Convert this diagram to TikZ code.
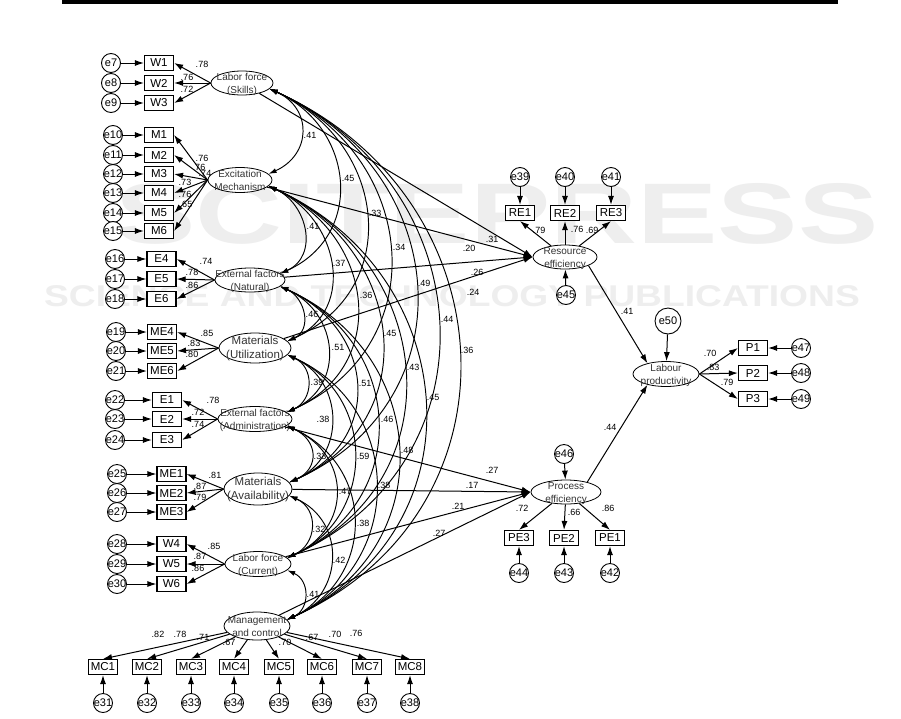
\documentclass[tikz,border=0pt]{standalone}
\usepackage{fontspec}
\setmainfont{Liberation Sans}
\usetikzlibrary{arrows.meta,shapes.geometric}
\newcommand\lattxt[2]{\makebox[0pt]{\raisebox{-3.5pt}[0pt][0pt]{\begin{tabular}{@{}c@{}}#1\\#2\end{tabular}}}}
\newcommand\ctxt[1]{\makebox[0pt]{#1}}
\begin{document}
\begin{tikzpicture}[x=1pt,y=1pt,
 lat/.style={draw, ellipse, inner sep=0pt, line width=0.8pt, fill=white, text=black!80, font=\fontsize{10}{13}\selectfont},
 latbig/.style={lat, font=\fontsize{11.5}{14}\selectfont},
 obs/.style={draw, rectangle, line width=1.2pt, fill=white, minimum width=29pt, minimum height=15pt, inner sep=0pt, font=\fontsize{11.5}{12}\selectfont},
 err/.style={draw, circle, line width=0.9pt, fill=white, minimum size=19pt, inner sep=0pt, font=\fontsize{11}{12}\selectfont},
 arr/.style={-{Latex[length=9pt,width=6pt]}, line width=1pt},
 cov/.style={{Latex[length=8pt,width=5pt]}-{Latex[length=8pt,width=5pt]}, line width=0.95pt},
 lab/.style={font=\fontsize{9}{10}\selectfont, inner sep=0pt},
 wmA/.style={text=gray!13, font=\fontsize{86}{90}\bfseries\selectfont, xscale=1.4, inner sep=0pt},
 wmB/.style={text=gray!13, font=\fontsize{30}{32}\bfseries\selectfont, xscale=1.24, inner sep=0pt},
]
\useasboundingbox (0,0) rectangle (901,-718);
\fill[white] (0,0) rectangle (901,-718);
% watermark
\node[wmA] (wm1) at (497,-214) {SCITEPRESS};
\node[wmB] (wm2) at (452,-296) {SCIENCE AND TECHNOLOGY PUBLICATIONS};
% header rule
\draw[line width=3.5pt] (62,-2) -- (838,-2);

% ---------- latent variables ----------
\node[lat, minimum width=62pt, minimum height=24pt] (F1) at (242,-83) {\lattxt{Labor force}{(Skills)}};
\node[lat, minimum width=64pt, minimum height=25pt] (F2) at (240,-180) {\lattxt{Excitation}{Mechanism}};
\node[lat, minimum width=70pt, minimum height=24pt] (F3) at (250,-280) {\lattxt{External factors}{(Natural)}};
\node[latbig, minimum width=72pt, minimum height=30pt] (F4) at (255,-348) {\lattxt{Materials}{(Utilization)}};
\node[lat, minimum width=74pt, minimum height=25pt] (F5) at (255,-419) {\lattxt{External factors}{(Administration)}};
\node[latbig, minimum width=68pt, minimum height=32pt] (F6) at (258,-489) {\lattxt{Materials}{(Availability)}};
\node[lat, minimum width=66pt, minimum height=25pt] (F7) at (258,-564) {\lattxt{Labor force}{(Current)}};
\node[lat, minimum width=66pt, minimum height=28pt] (F8) at (257,-626) {\lattxt{Management}{and control}};
\node[lat, minimum width=64pt, minimum height=24pt] (RE) at (565,-257) {\lattxt{Resource}{efficiency}};
\node[lat, minimum width=70pt, minimum height=24pt] (PE) at (566,-492) {\lattxt{Process}{efficiency}};
\node[lat, minimum width=66pt, minimum height=25pt] (LP) at (666,-374) {\lattxt{Labour}{productivity}};

% ---------- covariances ----------
\foreach \a/\b/\c/\t/\x/\y in {1/2/43/.41/310/135, 1/3/85/.45/348/178, 1/4/117/.33/375/213, 1/5/149/.34/399/247,
  1/6/182/.49/424/283, 1/7/213/.44/447/319, 1/8/241/.36/467/350, 2/3/39/.41/313/226, 2/4/70/.37/339/263,
  2/5/105/.36/366/295, 2/6/137/.45/390/333, 2/7/169/.43/413/367, 2/8/196/.45/433/397, 3/4/25/.46/312/314,
  3/5/59/.51/338/347, 3/6/95/.51/365/383, 3/7/125/.46/387/419, 3/8/153/.48/407/450, 4/5/27/.39/317/382,
  4/6/57/.38/323/419, 4/7/89/.59/363/456, 4/8/118/.38/384/485, 5/6/31/.33/320/456, 5/7/65/.47/345/491,
  5/8/89/.38/363/523, 6/7/30/.32/319/529, 6/8/57/.42/339/560, 7/8/23/.41/313/594}
{ \draw[cov] (F\a.-12) .. controls +({\c},{-0.45*\c}) and +({\c},{0.45*\c}) .. (F\b.12);
  \node[lab] at (\x,-\y) {\t}; }

% ---------- left indicator groups ----------
\foreach \n/\e/\bx/\ex/\y/\f in {W1/7/159/111/63/1, W2/8/159/111/83/1, W3/9/159/111/103/1,
  M1/10/159/113/135/2, M2/11/159/113/155/2, M3/12/159/113/174/2, M4/13/159/113/193/2, M5/14/159/113/213/2, M6/15/159/113/231/2,
  E4/16/161.5/115/259/3, E5/17/161.5/115/279/3, E6/18/161.5/115/299/3,
  ME4/19/162/116/332/4, ME5/20/162/116/351/4, ME6/21/162/116/371/4,
  E1/22/167/115/400/5, E2/23/167/115/419/5, E3/24/167/115/440/5,
  ME1/25/171.5/117/474/6, ME2/26/171.5/117/493/6, ME3/27/171.5/117/512/6,
  W4/28/171.5/117/544/7, W5/29/171.5/117/564/7, W6/30/171.5/117/584/7}
{ \node[obs] (\n) at (\bx,-\y) {\n};
  \node[err] (e\e) at (\ex,-\y) {\ctxt{e\e}};
  \draw[arr] (e\e) -- (\n);
  \draw[arr] (F\f.west) -- (\n.east); }

% ---------- management and control ----------
\foreach \i/\x in {1/103,2/147,3/191,4/234,5/279,6/322,7/367,8/410}
{ \pgfmathtruncatemacro\k{30+\i}
  \node[obs] (MC\i) at (\x,-667) {MC\i};
  \node[err] (e\k) at (\x,-703) {\ctxt{e\k}};
  \draw[arr] (e\k) -- (MC\i);
  \draw[arr] (F8) -- (MC\i.north); }

% ---------- resource efficiency ----------
\foreach \i/\e/\x in {1/39/520,2/40/565,3/41/611}
{ \node[obs] (RE\i) at (\x,-213) {RE\i};
  \node[err] (e\e) at (\x,-177) {\ctxt{e\e}};
  \draw[arr] (e\e) -- (RE\i);
  \draw[arr] (RE) -- (RE\i.south); }
\node[err] (e45) at (566,-295) {\ctxt{e45}};
\draw[arr] (e45) -- (RE);

% ---------- process efficiency ----------
\foreach \i/\e/\x in {3/44/519,2/43/564,1/42/610}
{ \node[obs] (PE\i) at (\x,-538) {PE\i};
  \node[err] (e\e) at (\x,-573) {\ctxt{e\e}};
  \draw[arr] (e\e) -- (PE\i);
  \draw[arr] (PE) -- (PE\i.north); }
\node[err] (e46) at (564,-454) {\ctxt{e46}};
\draw[arr] (e46) -- (PE);

% ---------- labour productivity ----------
\foreach \i/\e/\y in {1/47/348,2/48/373,3/49/399}
{ \node[obs] (P\i) at (753,-\y) {P\i};
  \node[err] (e\e) at (801,-\y) {\ctxt{e\e}};
  \draw[arr] (e\e) -- (P\i);
  \draw[arr] (LP.east) -- (P\i.west); }
\node[err, minimum size=26pt] (e50) at (668,-321) {\ctxt{e50}};
\draw[arr] (e50) -- (LP);
\draw[arr] (RE.-20) -- (LP.150);
\draw[arr] (PE.25) -- (LP.210);

% ---------- structural paths ----------
\foreach \f in {1,2,3,4} \draw[arr] (F\f) -- (RE.west);
\foreach \f in {5,6,7,8} \draw[arr] (F\f) -- (PE.west);

% ---------- coefficient labels ----------
\foreach \t/\x/\y in {.78/202/64, .76/187/77, .72/187/89,
  .76/202/158, .76/199/167, .74/205/173, .73/185/182, .76/185/194, .65/186/204,
  .74/206/261, .78/192/272, .86/192/285,
  .85/207/333, .83/194/343, .80/192/354,
  .78/213/400, .72/198/412, .74/198/424,
  .81/215/475, .87/200/486, .79/200/497,
  .85/214/546, .87/200/556, .86/198/568,
  .82/158/634, .78/180/634, .71/203/637, .67/229/642, .70/285/642, .67/312/637, .70/335/634, .76/356/633,
  .79/539/230, .76/577/229, .69/592/230,
  .72/522/508, .66/574/512, .86/608/508,
  .70/710/353, .83/713/367, .79/727/382,
  .41/627/311, .44/610/427,
  .31/492/239, .20/469/248, .26/477/272, .24/473/292,
  .27/492/470, .17/472/485, .21/458/506, .27/439/533}
{ \node[lab] at (\x,-\y) {\t}; }
\end{tikzpicture}
\end{document}
